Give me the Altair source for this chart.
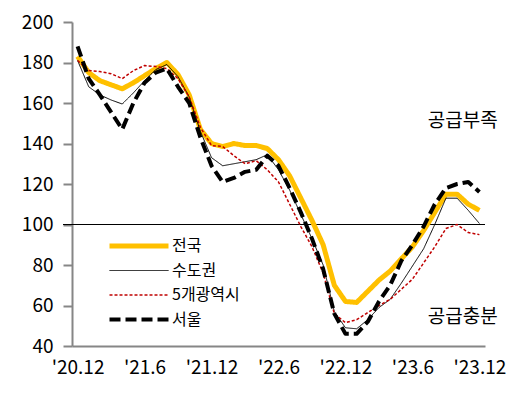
import json
import altair as alt
import pandas as pd

FONT = "Noto Sans CJK KR"

# month index 0 = '20.12 ... 36 = '23.12
months = list(range(37))
tick_pos = [0, 6, 12, 18, 24, 30, 36]
tick_labels = ["'20.12", "'21.6", "'21.12", "'22.6", "'22.12", "'23.6", "'23.12"]
y_ticks = [40, 60, 80, 100, 120, 140, 160, 180, 200]

series_names = ["전국", "수도권", "5개광역시", "서울"]
series_colors = ["#FFC000", "#000000", "#C00000", "#000000"]
series_widths = [5, 1, 1.5, 4]
series_dashes = [[1, 0], [1, 0], [3, 2], [11, 5]]

national = [183, 175, 171, 169, 167, 170, 173.5, 177, 180, 174, 164, 147, 140, 138.5,
            140, 139, 139, 137.5, 132, 124, 113, 102, 90, 70, 62, 61.5, 67, 72.5,
            77, 83, 89, 97, 106, 115, 115, 110, 107]
capital = [181, 168, 164, 161.5, 159.5, 165, 171, 176.5, 179, 173, 163, 146, 133, 129,
           130, 131, 132, 134.5, 127, 117, 105, 93, 80, 57, 49, 48.5, 53, 59,
           63, 71, 79.5, 88, 100, 113, 113, 107, 100.5]
metro5 = [181, 176, 175.5, 174.5, 172, 176, 178.5, 178, 177, 172, 163, 148, 139, 138.5,
          134, 130, 131.5, 127, 121, 110, 99, 89, 76, 56, 51.5, 53, 56.5, 60,
          63, 68, 73, 81, 89, 98, 100, 96, 95]
seoul = [188, 172, 164, 155.5, 147, 160, 170, 175, 177, 168, 160, 143, 129, 121,
         123, 126, 127, 134, 129, 118, 106, 93, 78, 56, 46, 46, 52, 62,
         70, 82, 90, 99, 110, 118, 120, 121, 116]

note_text = ["공급부족", "공급충분"]
note_x = [34.5, 34.5]
note_y = [151, 54.3]
ref_value = [100]

values = [national, capital, metro5, seoul]
rows = []
for name, vals in zip(series_names, values):
    for m, v in zip(months, vals):
        rows.append({"m": m, "series": name, "v": v})
df = pd.DataFrame(rows)

label_expr = json.dumps(tick_labels) + "[round(datum.value / 6)]"

x_enc = alt.X("m:Q",
              scale=alt.Scale(domain=[-0.5, 36.5], nice=False, zero=False),
              axis=alt.Axis(values=tick_pos, labelExpr=label_expr, ticks=False, grid=False,
                            domainColor="#868686", domainWidth=2, labelFontSize=19,
                            labelFont=FONT, labelColor="#000000", labelPadding=12,
                            labelFlush=False, title=None))
y_enc = alt.Y("v:Q",
              scale=alt.Scale(domain=[40, 200], nice=False, zero=False),
              axis=alt.Axis(values=y_ticks, grid=False, domainColor="#868686", domainWidth=2,
                            tickColor="#868686", tickWidth=2, tickSize=9, labelFontSize=19,
                            labelFont=FONT, labelColor="#000000", labelPadding=10,
                            title=None))

color_enc = alt.Color("series:N", title=None,
                      scale=alt.Scale(domain=series_names, range=series_colors))
dash_enc = alt.StrokeDash("series:N", title=None,
                          scale=alt.Scale(domain=series_names, range=series_dashes))
width_enc = alt.StrokeWidth("series:N", title=None,
                            scale=alt.Scale(type="ordinal", domain=series_names,
                                            range=series_widths))

layers = []
for name in series_names:
    layers.append(
        alt.Chart(df).transform_filter(alt.datum.series == name)
        .mark_line(strokeJoin="round")
        .encode(x=x_enc, y=y_enc, color=color_enc, strokeDash=dash_enc, strokeWidth=width_enc)
    )

ref = alt.Chart(pd.DataFrame({"r": ref_value})).mark_rule(color="black", strokeWidth=1).encode(
    y=alt.Y("r:Q"), x=alt.value(-9), x2=alt.value(413))

notes = alt.Chart(pd.DataFrame({"t": note_text, "x": note_x, "y": note_y})).mark_text(
    font=FONT, fontSize=19, color="#000000", align="center", baseline="middle"
).encode(x=alt.X("x:Q"), y=alt.Y("y:Q"), text="t:N")

chart = alt.layer(ref, *layers, notes).properties(
    width=413, height=324,
    autosize=alt.AutoSizeParams(type="none"),
    padding={"left": 64, "top": 14, "right": 36, "bottom": 44},
).configure_view(strokeWidth=0).configure_legend(
    orient="none", legendX=35, legendY=214, symbolType="stroke", symbolSize=3481,
    clipHeight=20, rowPadding=4.5, labelFontSize=16, labelFont=FONT, labelColor="#000000",
    labelOffset=1, padding=0
)

chart.save("out.html", embed_options={"renderer": "svg", "actions": False})
